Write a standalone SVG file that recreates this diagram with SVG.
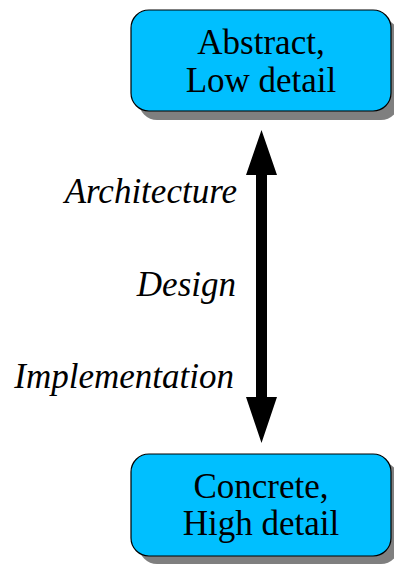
<svg xmlns="http://www.w3.org/2000/svg" width="394" height="564" viewBox="0 0 394 564">
<defs>
<style>
.box{fill:#00bfff;stroke:#000;stroke-width:1.2}
.shadow{fill:#7f7f7f}
.t{font-family:"Liberation Serif",serif;font-size:35px;fill:#000;text-anchor:middle}
.l{font-family:"Liberation Serif",serif;font-size:35px;font-style:italic;fill:#000;text-anchor:end}
</style>
</defs>
<rect width="394" height="564" fill="#fff"/>
<g id="node-abstract">
<rect class="shadow" x="139" y="19" width="260" height="101" rx="18"/>
<rect class="box" x="131" y="10" width="260" height="101" rx="18"/>
<text class="t" x="261" y="54">Abstract,</text>
<text class="t" x="261" y="92">Low detail</text>
</g>
<g id="node-concrete">
<rect class="shadow" x="139" y="462" width="260" height="102" rx="18"/>
<rect class="box" x="131" y="454" width="260" height="102" rx="18"/>
<text class="t" x="261" y="498">Concrete,</text>
<text class="t" x="261" y="535">High detail</text>
</g>
<g id="connectors">
<polygon points="261.5,130 277,175 267,175 267,397 277,397 261.5,443 246,397 256,397 256,175 246,175" fill="#000"/>
</g>
<g id="labels">
<text class="l" x="237" y="203">Architecture</text>
<text class="l" x="236" y="296">Design</text>
<text class="l" x="234" y="388">Implementation</text>
</g>
</svg>
